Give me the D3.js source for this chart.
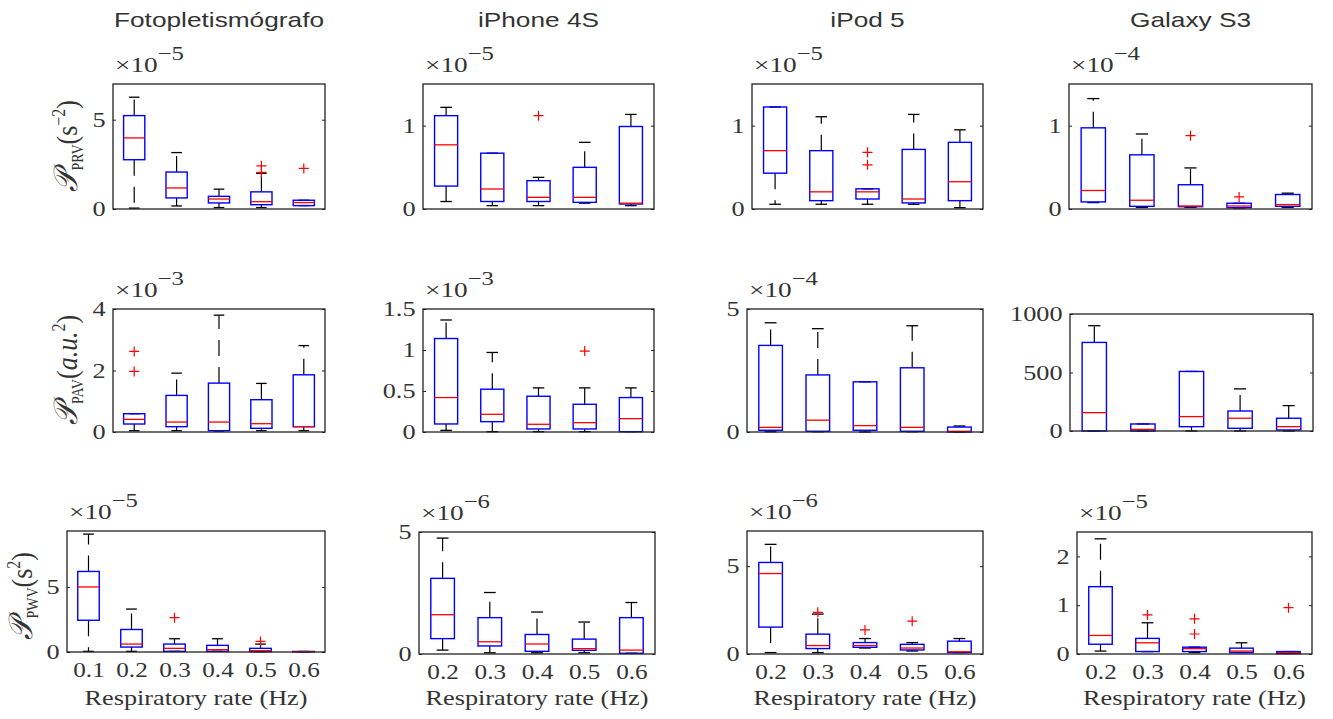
<!doctype html>
<html>
<head>
<meta charset="utf-8">
<script src="https://cdn.jsdelivr.net/npm/d3@7"></script>
<style>
  body { margin: 0; background: #fff; }
  text { fill: #333; }
</style>
</head>
<body>
<svg id="chart"></svg>
<script>
var width = 1333, height = 719;

// column titles and x categories (Hz)
var devices = ["Fotopletismógrafo", "iPhone 4S", "iPod 5", "Galaxy S3"];
var ratesFoto = ["0.1", "0.2", "0.3", "0.4", "0.5", "0.6"];
var ratesPhone = ["0.2", "0.3", "0.4", "0.5", "0.6"];

// each box: [lower adjacent, q1, median, q3, upper adjacent], in units of the panel multiplier
// row 1: P_PRV
var prvFoto = [[0.05, 2.76, 3.98, 5.23, 6.26], [0.17, 0.62, 1.18, 2.07, 3.16], [0.08, 0.34, 0.56, 0.71, 1.11], [0.08, 0.24, 0.41, 0.96, 2.0], [0.19, 0.19, 0.36, 0.49, 0.49]];
var prvFotoOut = [[], [], [], [2.42, 2.05], [2.27]];
var prvIphone = [[0.09, 0.275, 0.77, 1.12, 1.22], [0.04, 0.09, 0.24, 0.67, 0.67], [0.04, 0.09, 0.14, 0.34, 0.38], [0.07, 0.08, 0.14, 0.5, 0.8], [0.04, 0.06, 0.07, 0.99, 1.135]];
var prvIphoneOut = [[], [], [1.12], [], []];
var prvIpod = [[0.057, 0.43, 0.7, 1.224, 1.224], [0.057, 0.1, 0.206, 0.7, 1.107], [0.057, 0.12, 0.206, 0.242, 0.242], [0.057, 0.073, 0.12, 0.715, 1.135], [0.016, 0.1, 0.327, 0.8, 0.95]];
var prvIpodOut = [[], [], [0.68, 0.53], [], []];
var prvGalaxy = [[0.077, 0.085, 0.222, 0.974, 1.325], [0.02, 0.032, 0.105, 0.65, 0.9], [0.02, 0.028, 0.036, 0.291, 0.493], [0.012, 0.016, 0.036, 0.069, 0.069], [0.02, 0.032, 0.053, 0.174, 0.19]];
var prvGalaxyOut = [[], [], [0.88], [0.145], []];

// row 2: P_PAV
var pavFoto = [[0.043, 0.26, 0.41, 0.595, 0.595], [0.043, 0.173, 0.324, 1.19, 1.914], [0.03, 0.043, 0.324, 1.59, 3.8], [0.043, 0.12, 0.27, 1.05, 1.58], [0.043, 0.173, 0.173, 1.86, 2.81]];
var pavFotoOut = [[2.62, 1.97], [], [], [], []];
var pavIphone = [[0.02, 0.098, 0.42, 1.14, 1.366], [0.004, 0.126, 0.216, 0.522, 0.97], [0.004, 0.037, 0.094, 0.436, 0.538], [0.004, 0.037, 0.114, 0.338, 0.538], [0.004, 0.004, 0.163, 0.42, 0.538]];
var pavIphoneOut = [[], [], [], [0.987], []];
var pavIpod = [[0.01, 0.07, 0.19, 3.52, 4.44], [0.01, 0.03, 0.48, 2.32, 4.2], [0, 0.07, 0.26, 2.04, 2.04], [0.01, 0.03, 0.19, 2.61, 4.32], [0, 0, 0.03, 0.2, 0.245]];
var pavIpodOut = [[], [], [], [], []];
var pavGalaxy = [[0, 0, 157, 757, 900], [0, 0, 14, 60, 60], [0, 37, 123, 509, 509], [0, 23, 109, 171, 360], [0, 9, 37, 109, 217]];
var pavGalaxyOut = [[], [], [], [], []];

// row 3: P_PWV
var pwvFoto = [[0.05, 2.44, 5.0, 6.19, 9.06], [0.05, 0.38, 0.61, 1.73, 3.3], [0.05, 0.05, 0.28, 0.61, 1.02], [0.05, 0.05, 0.18, 0.51, 1.02], [0.03, 0.03, 0.1, 0.28, 0.61], [0.02, 0.02, 0.03, 0.04, 0.04]];
var pwvFotoOut = [[], [], [2.64], [], [0.81], []];
var pwvIphone = [[0.16, 0.63, 1.61, 3.1, 4.75], [0.05, 0.33, 0.5, 1.49, 2.52], [0.05, 0.11, 0.41, 0.8, 1.72], [0.05, 0.15, 0.22, 0.61, 1.31], [0.03, 0.03, 0.16, 1.49, 2.11]];
var pwvIphoneOut = [[], [], [], [], []];
var pwvIpod = [[0.08, 1.53, 4.58, 5.21, 6.24], [0.08, 0.31, 0.48, 1.13, 2.27], [0.34, 0.38, 0.48, 0.65, 0.88], [0.17, 0.23, 0.34, 0.55, 0.65], [0.08, 0.08, 0.13, 0.73, 0.88]];
var pwvIpodOut = [[], [2.37], [1.37], [1.87], []];
var pwvGalaxy = [[0.06, 0.2, 0.38, 1.38, 2.36], [0.05, 0.05, 0.23, 0.32, 0.64], [0.03, 0.05, 0.11, 0.14, 0.14], [0.03, 0.03, 0.06, 0.12, 0.23], [0.01, 0.01, 0.03, 0.05, 0.05]];
var pwvGalaxyOut = [[], [0.8], [0.72, 0.41], [], [0.95]];

// y axis limits, ticks and exponent of the multiplier label
var yMaxs = [[7, 1.5, 1.5, 1.5], [4, 1.5, 5, 1000], [9.3, 5, 7, 2.5]];
var yTicks = [[[0, 5], [0, 1], [0, 1], [0, 1]],
              [[0, 2, 4], [0, 0.5, 1, 1.5], [0, 5], [0, 500, 1000]],
              [[0, 5], [0, 5], [0, 5], [0, 1, 2]]];
var exponents = [["5", "5", "5", "4"], ["3", "3", "4", null], ["5", "6", "6", "5"]];

var rows = [
  [[prvFoto, prvFotoOut], [prvIphone, prvIphoneOut], [prvIpod, prvIpodOut], [prvGalaxy, prvGalaxyOut]],
  [[pavFoto, pavFotoOut], [pavIphone, pavIphoneOut], [pavIpod, pavIpodOut], [pavGalaxy, pavGalaxyOut]],
  [[pwvFoto, pwvFotoOut], [pwvIphone, pwvIphoneOut], [pwvIpod, pwvIpodOut], [pwvGalaxy, pwvGalaxyOut]]
];

// axes frames in page pixels: left, top, right, bottom
var frames = [
  [[113, 84, 325, 209], [423, 84, 654, 209], [752, 84, 983, 209], [1069, 84, 1312, 209]],
  [[113, 309, 325, 432], [423, 309, 654, 432], [747, 309, 983, 432], [1070, 314, 1313, 431]],
  [[67, 531, 325, 652], [419, 532, 655, 654], [747, 531, 983, 654], [1077, 532, 1312, 654]]
];

var serif = "'Liberation Serif', 'DejaVu Serif', serif";
var sans = "'Liberation Sans', Arial, sans-serif";

var svg = d3.select("#chart").attr("width", width).attr("height", height);

function drawPanel(r, c) {
  var f = frames[r][c];
  var boxes = rows[r][c][0], outs = rows[r][c][1];
  var n = boxes.length;
  var g = svg.append("g");
  var x = d3.scaleLinear().domain([0.5, n + 0.5]).range([f[0], f[2]]);
  var y = d3.scaleLinear().domain([0, yMaxs[r][c]]).range([f[3], f[1]]);
  var half = (x(1.25) - x(0.75)) / 2, cap = half / 2;
  var items = boxes.map(function(d, i) {
    return {i: i + 1, lo: d[0], q1: d[1], med: d[2], q3: d[3], hi: d[4]};
  });

  // whiskers (dashed) from box edges to adjacent values
  g.selectAll(".wu").data(items).join("line")
    .attr("x1", d => x(d.i)).attr("x2", d => x(d.i))
    .attr("y1", d => y(d.q3)).attr("y2", d => y(d.hi))
    .attr("stroke", "#000").attr("stroke-width", 1.2).attr("stroke-dasharray", "16,11");
  g.selectAll(".wl").data(items).join("line")
    .attr("x1", d => x(d.i)).attr("x2", d => x(d.i))
    .attr("y1", d => y(d.q1)).attr("y2", d => y(d.lo))
    .attr("stroke", "#000").attr("stroke-width", 1.2).attr("stroke-dasharray", "16,11");
  g.selectAll(".cu").data(items).join("line")
    .attr("x1", d => x(d.i) - cap).attr("x2", d => x(d.i) + cap)
    .attr("y1", d => y(d.hi)).attr("y2", d => y(d.hi))
    .attr("stroke", "#000").attr("stroke-width", 1.3);
  g.selectAll(".cl").data(items).join("line")
    .attr("x1", d => x(d.i) - cap).attr("x2", d => x(d.i) + cap)
    .attr("y1", d => y(d.lo)).attr("y2", d => y(d.lo))
    .attr("stroke", "#000").attr("stroke-width", 1.3);

  // boxes and medians
  g.selectAll(".bx").data(items).join("rect")
    .attr("x", d => x(d.i) - half).attr("width", 2 * half)
    .attr("y", d => y(d.q3)).attr("height", d => Math.max(0, y(d.q1) - y(d.q3)))
    .attr("fill", "none").attr("stroke", "#0000ff").attr("stroke-width", 1.4);
  g.selectAll(".md").data(items).join("line")
    .attr("x1", d => x(d.i) - half).attr("x2", d => x(d.i) + half)
    .attr("y1", d => y(d.med)).attr("y2", d => y(d.med))
    .attr("stroke", "#ff0000").attr("stroke-width", 1.3);

  // outliers as red plus signs
  var pts = [];
  outs.forEach(function(o, i) { o.forEach(function(v) { pts.push({i: i + 1, v: v}); }); });
  g.selectAll(".ol").data(pts).join("path")
    .attr("d", d => "M" + (x(d.i) - 5) + "," + y(d.v) + "h10M" + x(d.i) + "," + (y(d.v) - 5) + "v10")
    .attr("stroke", "#ff0000").attr("stroke-width", 1.2).attr("fill", "none");

  // y axis with inward ticks
  var ay = g.append("g").attr("transform", "translate(" + f[0] + ",0)")
    .call(d3.axisLeft(y).tickValues(yTicks[r][c]).tickSize(-3).tickPadding(6).tickFormat(d3.format("~g")));
  ay.select(".domain").remove();
  ay.selectAll("line").attr("stroke", "#222");
  ay.selectAll("text").attr("font-family", serif).attr("font-size", 21).attr("fill", "#333")
    .attr("transform", "scale(1.25,1)");
  var ar = g.append("g").attr("transform", "translate(" + f[2] + ",0)")
    .call(d3.axisRight(y).tickValues(yTicks[r][c]).tickSize(-3).tickFormat(""));
  ar.select(".domain").remove();
  ar.selectAll("line").attr("stroke", "#222");

  if (r === 2) {
    var cats = c === 0 ? ratesFoto : ratesPhone;
    var ax = g.append("g").attr("transform", "translate(0," + f[3] + ")")
      .call(d3.axisBottom(x).tickValues(d3.range(1, n + 1)).tickSize(0).tickPadding(10)
        .tickFormat(d => cats[d - 1]));
    ax.select(".domain").remove();
    ax.selectAll("text").attr("font-family", serif).attr("font-size", 21).attr("fill", "#333")
      .attr("transform", "scale(1.2,1)").attr("dy", "0.71em");
    g.append("text")
      .attr("transform", "translate(" + ((f[0] + f[2]) / 2) + ",705) scale(1.25,1)")
      .attr("text-anchor", "middle").attr("font-family", serif).attr("font-size", 21)
      .text("Respiratory rate (Hz)");
  }

  // frame
  g.append("rect").attr("x", f[0]).attr("y", f[1]).attr("width", f[2] - f[0]).attr("height", f[3] - f[1])
    .attr("fill", "none").attr("stroke", "#222").attr("stroke-width", 1.3);

  // multiplier label
  if (exponents[r][c]) {
    var t = g.append("text")
      .attr("transform", "translate(" + (f[0] + 2) + "," + (f[1] - 12) + ") scale(1.3,1)")
      .attr("font-family", serif);
    t.append("tspan").attr("font-size", 21).text("×10");
    t.append("tspan").attr("font-size", 19).attr("dy", -12).text("−" + exponents[r][c]);
  }

  if (r === 0) {
    g.append("text")
      .attr("transform", "translate(" + ((f[0] + f[2]) / 2) + ",27) scale(1.25,1)")
      .attr("text-anchor", "middle").attr("font-family", sans).attr("font-size", 21).attr("fill", "#000")
      .text(devices[c]);
  }
}

for (var r = 0; r < 3; r++) for (var c = 0; c < 4; c++) drawPanel(r, c);

// y labels
var yLabels = [
  {cx: 71, cy: 146, sub: "PRV", unit: "s", sup: "−2"},
  {cx: 71, cy: 370, sub: "PAV", unit: "a.u.", sup: "2", italic: true},
  {cx: 26, cy: 596, sub: "PWV", unit: "s", sup: "2"}
];
yLabels.forEach(function(d) {
  var t = svg.append("text")
    .attr("transform", "translate(" + d.cx + "," + d.cy + ") scale(1.15,1) rotate(-90)")
    .attr("text-anchor", "middle").attr("font-family", serif).attr("dy", "0.35em");
  t.append("tspan").attr("font-size", 29).attr("font-style", "italic").text("𝒫");
  t.append("tspan").attr("font-size", 14).attr("dy", 5).text(d.sub);
  t.append("tspan").attr("font-size", 26).attr("dy", -5).text("(");
  t.append("tspan").attr("font-size", 26).attr("font-style", d.italic ? "italic" : "normal").text(d.unit);
  t.append("tspan").attr("font-size", 16).attr("dy", -11).text(d.sup);
  t.append("tspan").attr("font-size", 26).attr("dy", 11).text(")");
});
</script>
</body>
</html>
